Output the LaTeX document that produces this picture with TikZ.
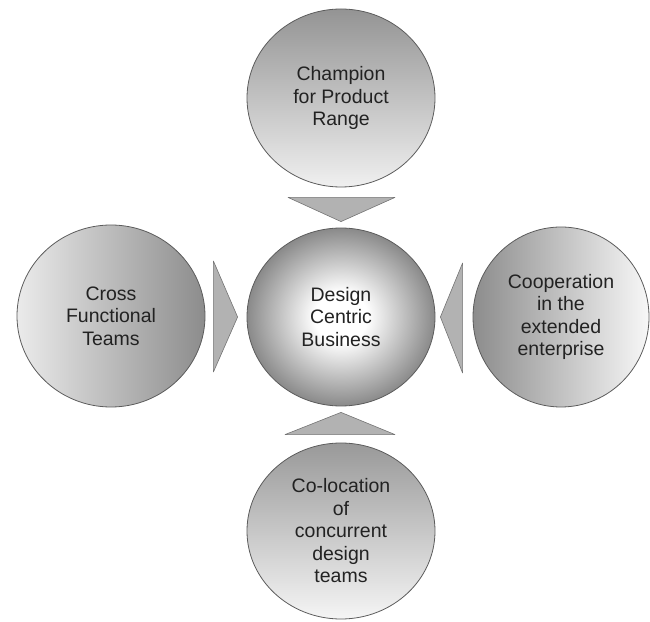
\documentclass[tikz,border=0pt]{standalone}
\usepackage{fontspec}
\setmainfont{Liberation Sans}
\usetikzlibrary{calc,shapes.geometric}
\definecolor{rimgray}{HTML}{5C5C5C}
\definecolor{inkgray}{HTML}{222222}
\definecolor{wedgegray}{HTML}{B2B2B2}
% hub glow: wide white core fading out to the rim
\pgfdeclareradialshading{hubglow}{\pgfpoint{0bp}{0bp}}{%
  color(0bp)=(white); color(7bp)=(white); color(25bp)=(black!46); color(50bp)=(black!46)}

\begin{document}
\begin{tikzpicture}[x=1pt,y=1pt,
  bubble/.style={ellipse,draw=rimgray,line width=0.8pt,inner sep=0pt,
    minimum width=188pt,minimum height=178pt,align=center,text=inkgray,
    font=\fontsize{19.5}{22.5}\selectfont},
  wedge/.style={draw=rimgray!85,line width=0.6pt,fill=wedgegray,line join=round}]
  \useasboundingbox (0,0) rectangle (650,621);
  % the five bubbles
  \node[bubble,shading=hubglow] (C) at (341,304)
    {Design\\Centric\\Business};
  \node[bubble,top color=black!42,bottom color=black!6] (T) at (341,523)
    {Champion\\for Product\\Range};
  \node[bubble,left color=black!8,right color=black!45,minimum height=182pt] (L) at (111,305)
    {Cross\\Functional\\Teams};
  \node[bubble,left color=black!45,right color=black!3,minimum width=176pt,minimum height=180pt] (R) at (561,304)
    {Cooperation\\in the\\extended\\enterprise};
  \node[bubble,top color=black!40,bottom color=black!4,minimum height=176pt] (B) at (341,90)
    {Co-location\\of\\concurrent\\design\\teams};
  % wedges pointing at the hub
  \filldraw[wedge] ($(T.south)+(-53,-10)$) -- ($(T.south)+(54,-10)$) -- ($(C.north)+(0,6)$) -- cycle;
  \filldraw[wedge] ($(B.north)+(-56,8)$) -- ($(B.north)+(54,8)$) -- ($(C.south)+(0,-6)$) -- cycle;
  \filldraw[wedge] ($(L.east)+(8,55)$) -- ($(L.east)+(8,-56)$) -- ($(C.west)+(-9,0)$) -- cycle;
  \filldraw[wedge] ($(R.west)+(-10,54)$) -- ($(R.west)+(-10,-56)$) -- ($(C.east)+(5,0)$) -- cycle;
\end{tikzpicture}
\end{document}
